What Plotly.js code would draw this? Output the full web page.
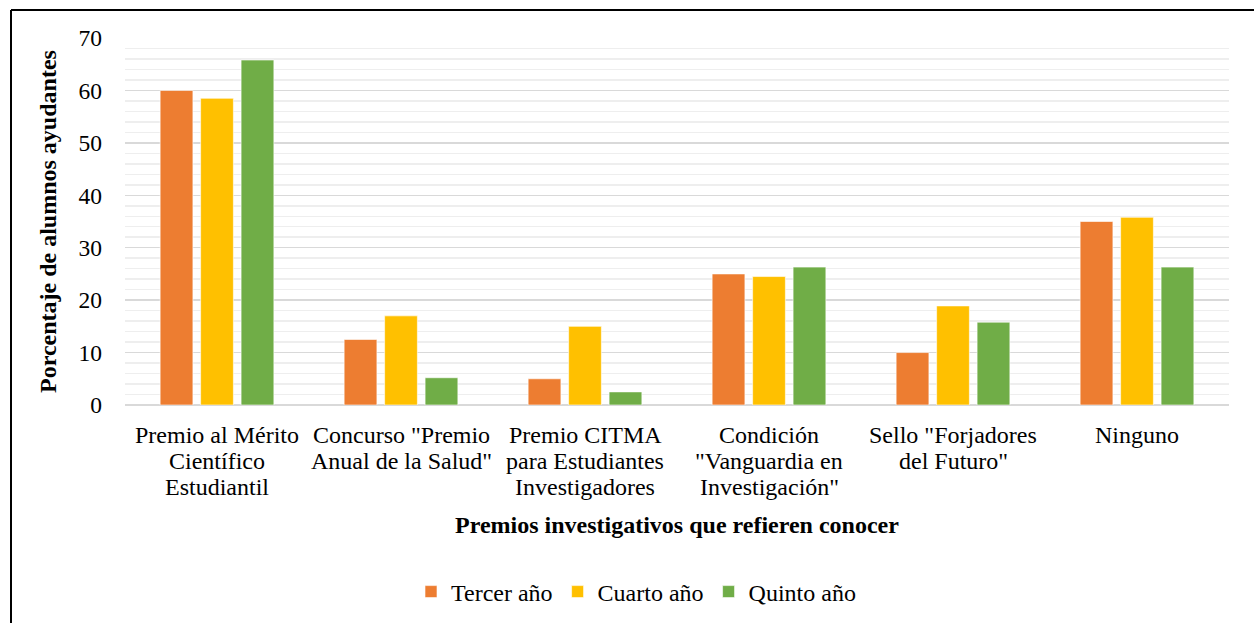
<!DOCTYPE html>
<html>
<head>
<meta charset="utf-8">
<script src="https://cdn.plot.ly/plotly-3.0.1.min.js"></script>
<style>
html,body{margin:0;padding:0;background:#fff;}
#chart{width:1254px;height:623px;}
</style>
</head>
<body>
<div id="chart"></div>
<script>
const categories = [
  "Premio al Mérito Científico Estudiantil",
  "Concurso \"Premio Anual de la Salud\"",
  "Premio CITMA para Estudiantes Investigadores",
  "Condición \"Vanguardia en Investigación\"",
  "Sello \"Forjadores del Futuro\"",
  "Ninguno"
];
const categoryLines = [
  ["Premio al Mérito", "Científico", "Estudiantil"],
  ["Concurso \"Premio", "Anual de la Salud\""],
  ["Premio CITMA", "para Estudiantes", "Investigadores"],
  ["Condición", "\"Vanguardia en", "Investigación\""],
  ["Sello \"Forjadores", "del Futuro\""],
  ["Ninguno"]
];
const seriesNames = ["Tercer año", "Cuarto año", "Quinto año"];
const tercer = [60, 12.5, 5, 25, 10, 35];
const cuarto = [58.5, 17, 15, 24.5, 18.9, 35.8];
const quinto = [65.8, 5.2, 2.5, 26.3, 15.8, 26.3];
const colors = ["#ED7D31", "#FFC000", "#70AD47"];
const yTicks = [0, 10, 20, 30, 40, 50, 60, 70];

const font = "Liberation Serif";
const FS = 24;
const data = [tercer, cuarto, quinto].map((vals, i) => ({
  type: "bar",
  name: seriesNames[i],
  x: categories,
  y: vals,
  marker: {color: colors[i], line: {color: "rgba(255,255,255,0.6)", width: 1}},
  hoverinfo: "x+y"
}));

// plot area: top 38, bottom 405 => height 367
const plotTop = 38, plotH = 367;
const py = (pix) => (plotTop + plotH - pix) / plotH;

const annotations = [
  {text: "<b>Porcentaje de alumnos ayudantes</b>", xref: "paper", yref: "paper",
   x: (48 - 125) / 1104, y: py(222), xanchor: "center", yanchor: "middle", textangle: -90, showarrow: false,
   font: {family: font, size: FS, color: "#000"}},
  {text: "<b>Premios investigativos que refieren conocer</b>", xref: "paper", yref: "paper",
   x: (677 - 125) / 1104, y: py(525), xanchor: "center", yanchor: "middle", showarrow: false,
   font: {family: font, size: FS, color: "#000"}}
];
categoryLines.forEach((lines, ci) => {
  lines.forEach((ln, li) => {
    annotations.push({
      text: ln, xref: "x", yref: "paper", x: categories[ci], y: py(435 + li * 26),
      xanchor: "center", yanchor: "middle", showarrow: false,
      font: {family: font, size: FS, color: "#000"}
    });
  });
});

const layout = {
  width: 1254, height: 623,
  margin: {l: 125, r: 25, t: 38, b: 218},
  paper_bgcolor: "#fff", plot_bgcolor: "#fff",
  font: {family: font, size: FS, color: "#000"},
  barmode: "group",
  bargap: 0.34,
  bargroupgap: 0.19,
  showlegend: true,
  legend: {orientation: "h", xref: "container", yref: "container",
           x: 636 / 1254, xanchor: "center", y: (623 - 592) / 623, yanchor: "middle",
           font: {family: font, size: FS, color: "#000"}, itemwidth: 20, traceorder: "normal"},
  xaxis: {
    type: "category",
    showgrid: false, zeroline: false, showline: false,
    ticks: "", showticklabels: false,
    automargin: false
  },
  yaxis: {
    range: [0, 70],
    tickvals: yTicks,
    ticktext: yTicks.map(String),
    showgrid: true, gridcolor: "#d9d9d9", gridwidth: 1.5,
    minor: {dtick: 2, showgrid: true, gridcolor: "#eeeeee", gridwidth: 1.5, ticks: ""},
    zeroline: true, zerolinecolor: "#d9d9d9", zerolinewidth: 2,
    showline: false, ticks: "", ticklabelstandoff: 22,
    tickfont: {family: font, size: 23.5, color: "#000"},
    automargin: false
  },
  annotations: annotations,
  shapes: [
    {type: "line", xref: "paper", yref: "paper", x0: (11 - 125) / 1104, x1: 1.03, y0: py(10), y1: py(10),
     line: {color: "#000", width: 2}},
    {type: "line", xref: "paper", yref: "paper", x0: (11 - 125) / 1104, x1: (11 - 125) / 1104, y0: py(10), y1: py(640),
     line: {color: "#000", width: 2}}
  ]
};

Plotly.newPlot("chart", data, layout, {displayModeBar: false, staticPlot: true});
</script>
</body>
</html>
